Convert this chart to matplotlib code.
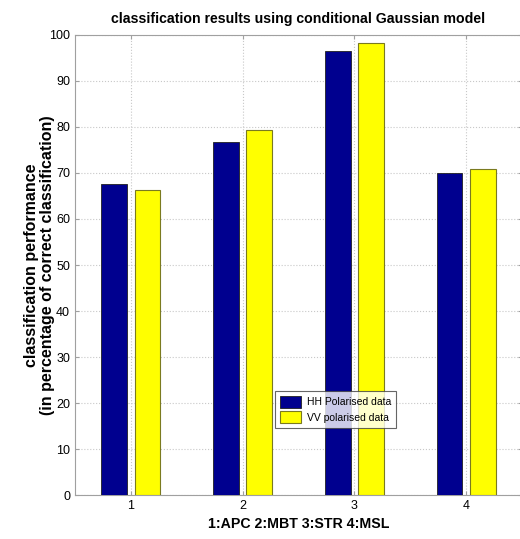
import numpy as np
import matplotlib
matplotlib.use("Agg")
import matplotlib.pyplot as plt

# data
classes = [1, 2, 3, 4]
hh_vals = [67.6, 76.7, 96.5, 70.1]
vv_vals = [66.3, 79.3, 98.3, 70.8]
series_names = ["HH Polarised data", "VV polarised data"]

plt.rcParams['font.family'] = ['Liberation Sans', 'DejaVu Sans']

fig = plt.figure(figsize=(5.2, 5.39), dpi=100)
ax = fig.add_axes([75/520, 1 - 495/539, 447/520, 460/539])

x = np.array(classes)
w = 0.23
ax.bar(x - 0.148, hh_vals, w, color='#00008f', edgecolor='#202020', linewidth=0.6,
       label=series_names[0], zorder=3)
ax.bar(x + 0.148, vv_vals, w, color='#ffff00', edgecolor='#7a7a20', linewidth=0.8,
       label=series_names[1], zorder=3)

ax.set_xlim(0.5, 4.5)
ax.set_ylim(0, 100)
ax.set_xticks(classes)
ax.set_yticks(np.arange(0, 101, 10))
ax.grid(True, linestyle=':', color='#c8c8c8', linewidth=0.8, zorder=0)
for s in ax.spines.values():
    s.set_color('#a0a0a0')
ax.tick_params(colors='#a0a0a0', labelcolor='black', labelsize=9, length=3, direction='in',
               top=True, right=True)

ax.set_title("classification results using conditional Gaussian model",
             fontsize=10.2, fontweight='bold', pad=9)
ax.set_xlabel("1:APC 2:MBT 3:STR 4:MSL", fontsize=10.2, fontweight='bold', labelpad=4)
ax.set_ylabel("classification performance\n(in percentage of correct classification)",
              fontsize=11.5, fontweight='bold', labelpad=-4, linespacing=1.05)

leg = ax.legend(loc='lower left', bbox_to_anchor=((275 - 75)/447, (495 - 428)/460),
                fontsize=7.5, frameon=True, fancybox=False, edgecolor='#404040',
                handlelength=2.0, handleheight=1.4, borderpad=0.45, labelspacing=0.35,
                handletextpad=0.6, borderaxespad=0)
leg.get_frame().set_linewidth(0.8)

fig.savefig("out.png", dpi=100)
